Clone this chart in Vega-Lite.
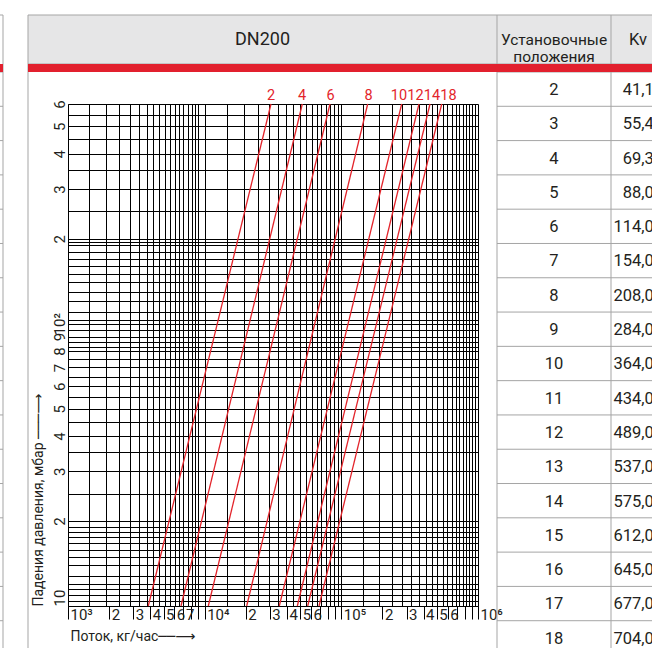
{
  "$schema": "https://vega.github.io/schema/vega-lite/v6.json",
  "width": 410,
  "height": 502,
  "autosize": "none",
  "padding": {"left": 68, "top": 104, "right": 174, "bottom": 42},
  "background": "#ffffff",
  "config": {"view": {"stroke": null}},
  "datasets": {
    "table": [
      {"pos": 2, "kv": "41,10"}, {"pos": 3, "kv": "55,40"}, {"pos": 4, "kv": "69,30"},
      {"pos": 5, "kv": "88,00"}, {"pos": 6, "kv": "114,00"}, {"pos": 7, "kv": "154,00"},
      {"pos": 8, "kv": "208,00"}, {"pos": 9, "kv": "284,00"}, {"pos": 10, "kv": "364,00"},
      {"pos": 11, "kv": "434,00"}, {"pos": 12, "kv": "489,00"}, {"pos": 13, "kv": "537,00"},
      {"pos": 14, "kv": "575,00"}, {"pos": 15, "kv": "612,00"}, {"pos": 16, "kv": "645,00"},
      {"pos": 17, "kv": "677,00"}, {"pos": 18, "kv": "704,00"}
    ],
    "lines": [
      {"pos": 2, "q": 3868, "dp": 10}, {"pos": 2, "q": 30570, "dp": 600},
      {"pos": 4, "q": 6712, "dp": 10}, {"pos": 4, "q": 51820, "dp": 600},
      {"pos": 6, "q": 10630, "dp": 10}, {"pos": 6, "q": 82600, "dp": 600},
      {"pos": 8, "q": 20300, "dp": 10}, {"pos": 8, "q": 155900, "dp": 600},
      {"pos": 10, "q": 35160, "dp": 10}, {"pos": 10, "q": 276500, "dp": 600},
      {"pos": 12, "q": 47640, "dp": 10}, {"pos": 12, "q": 369900, "dp": 600},
      {"pos": 14, "q": 56750, "dp": 10}, {"pos": 14, "q": 445500, "dp": 600},
      {"pos": 18, "q": 68640, "dp": 10}, {"pos": 18, "q": 542600, "dp": 600}
    ],
    "labels": [
      {"pos": 2, "q": 30590, "dp": 600}, {"pos": 4, "q": 51560, "dp": 600},
      {"pos": 6, "q": 83300, "dp": 600}, {"pos": 8, "q": 158100, "dp": 600},
      {"pos": 10, "q": 264200, "dp": 600}, {"pos": 12, "q": 348900, "dp": 600},
      {"pos": 14, "q": 460700, "dp": 600}, {"pos": 18, "q": 608400, "dp": 600}
    ]
  },
  "layer": [
    {
      "layer": [
        {
          "data": {"values": [{}]},
          "mark": {"type": "rect", "fill": "#e6e6e7"},
          "encoding": {
            "x": {"datum": 0, "type": "quantitative", "scale": {"type": "linear", "domain": [-1, 0, 1, 2, 3], "range": [-65, -40, 429, 543, 657], "nice": false, "zero": false}, "axis": null},
            "x2": {"datum": 3},
            "y": {"datum": 0, "type": "quantitative", "scale": {"type": "linear", "domain": [0, 1, 2, 19], "range": [-89, -40, -32, 551], "nice": false, "zero": false}, "axis": null},
            "y2": {"datum": 1}
          }
        },
        {
          "data": {"values": [{}]},
          "mark": {"type": "rule", "color": "#a5a5a5", "strokeWidth": 1},
          "encoding": {
            "x": {"datum": -1, "type": "quantitative"},
            "y": {"datum": 0, "type": "quantitative"},
            "y2": {"datum": 19}
          }
        },
        {
          "data": {"values": [{}]},
          "mark": {"type": "rule", "color": "#a5a5a5", "strokeWidth": 1},
          "encoding": {
            "x": {"datum": 0, "type": "quantitative"},
            "y": {"datum": 0, "type": "quantitative"},
            "y2": {"datum": 19}
          }
        },
        {
          "data": {"values": [{}]},
          "mark": {"type": "rule", "color": "#a5a5a5", "strokeWidth": 1},
          "encoding": {
            "x": {"datum": 1, "type": "quantitative"},
            "y": {"datum": 0, "type": "quantitative"},
            "y2": {"datum": 19}
          }
        },
        {
          "data": {"values": [{}]},
          "mark": {"type": "rule", "color": "#a5a5a5", "strokeWidth": 1},
          "encoding": {
            "x": {"datum": 2, "type": "quantitative"},
            "y": {"datum": 0, "type": "quantitative"},
            "y2": {"datum": 19}
          }
        },
        {
          "data": {"values": [{}]},
          "mark": {"type": "rule", "color": "#a5a5a5", "strokeWidth": 1},
          "encoding": {
            "x": {"datum": 0, "type": "quantitative"},
            "x2": {"datum": 3},
            "y": {"datum": 0, "type": "quantitative"}
          }
        },
        {
          "data": {"values": [{}]},
          "mark": {"type": "rule", "color": "#a5a5a5", "strokeWidth": 1},
          "encoding": {
            "x": {"datum": -1.2, "type": "quantitative"},
            "x2": {"datum": -1},
            "y": {"datum": 0, "type": "quantitative"}
          }
        },
        {
          "data": {"values": [{}]},
          "mark": {"type": "rule", "color": "#a5a5a5", "strokeWidth": 1},
          "encoding": {
            "x": {"datum": 0, "type": "quantitative"},
            "x2": {"datum": 3},
            "y": {"datum": 1, "type": "quantitative"}
          }
        },
        {
          "data": {"name": "table"},
          "mark": {"type": "rule", "color": "#a5a5a5", "strokeWidth": 1},
          "encoding": {
            "x": {"datum": 1, "type": "quantitative"},
            "x2": {"datum": 3},
            "y": {"field": "pos", "type": "quantitative"}
          }
        },
        {
          "data": {"name": "table"},
          "mark": {"type": "rule", "color": "#a5a5a5", "strokeWidth": 1},
          "encoding": {
            "x": {"datum": -1.2, "type": "quantitative"},
            "x2": {"datum": -1},
            "y": {"field": "pos", "type": "quantitative"}
          }
        },
        {
          "data": {"values": [{}]},
          "mark": {"type": "rect", "fill": "#e2202e"},
          "encoding": {
            "x": {"datum": 0, "type": "quantitative"},
            "x2": {"datum": 3},
            "y": {"datum": 1, "type": "quantitative"},
            "y2": {"datum": 2}
          }
        },
        {
          "data": {"values": [{}]},
          "mark": {"type": "rect", "fill": "#e2202e"},
          "encoding": {
            "x": {"datum": -1.2, "type": "quantitative"},
            "x2": {"datum": -1},
            "y": {"datum": 1, "type": "quantitative"},
            "y2": {"datum": 2}
          }
        },
        {
          "data": {"values": [{"t": "DN200"}]},
          "mark": {"type": "text", "font": "Roboto, Liberation Sans, sans-serif", "fontSize": 18, "color": "#231f20", "align": "center", "baseline": "middle"},
          "encoding": {
            "x": {"datum": 0.5, "type": "quantitative"},
            "y": {"datum": 0.5, "type": "quantitative"},
            "text": {"field": "t"}
          }
        },
        {
          "data": {"values": [{"t": "Установочные\nположения"}]},
          "mark": {"type": "text", "font": "Roboto, Liberation Sans, sans-serif", "fontSize": 15.5, "lineHeight": 17, "lineBreak": "\n", "color": "#231f20", "align": "center", "baseline": "middle"},
          "encoding": {
            "x": {"datum": 1.5, "type": "quantitative"},
            "y": {"datum": 0.5, "type": "quantitative"},
            "text": {"field": "t"}
          }
        },
        {
          "data": {"values": [{"t": "Kv"}]},
          "mark": {"type": "text", "font": "Roboto, Liberation Sans, sans-serif", "fontSize": 16.5, "color": "#231f20", "align": "center", "baseline": "middle", "dx": 27},
          "encoding": {
            "x": {"datum": 2, "type": "quantitative"},
            "y": {"datum": 0.5, "type": "quantitative"},
            "text": {"field": "t"}
          }
        },
        {
          "data": {"name": "table"},
          "mark": {"type": "text", "font": "Roboto, Liberation Sans, sans-serif", "fontSize": 16.5, "color": "#231f20", "align": "center", "baseline": "middle", "dy": 18},
          "encoding": {
            "x": {"datum": 1.5, "type": "quantitative"},
            "y": {"field": "pos", "type": "quantitative"},
            "text": {"field": "pos", "type": "nominal"}
          }
        },
        {
          "data": {"name": "table"},
          "mark": {"type": "text", "font": "Roboto, Liberation Sans, sans-serif", "fontSize": 16.5, "color": "#231f20", "align": "right", "baseline": "middle", "dy": 18, "dx": 52},
          "encoding": {
            "x": {"datum": 2, "type": "quantitative"},
            "y": {"field": "pos", "type": "quantitative"},
            "text": {"field": "kv", "type": "nominal"}
          }
        }
      ]
    },
    {
      "layer": [
        {
          "data": {"name": "lines"},
          "mark": {"type": "line", "color": "#e3242b", "strokeWidth": 1.3},
          "encoding": {
            "x": {
              "field": "q", "type": "quantitative",
              "scale": {"type": "log", "domain": [1000, 1000000], "nice": false},
              "axis": {
                "orient": "bottom",
                "values": [1000, 1430, 1900, 2370, 2840, 3330, 3770, 4210, 4630, 5130, 5580, 6070, 6520, 6980, 7520, 8040, 8500, 8980, 10000, 14500, 19500, 24500, 29500, 34500, 39500, 44500, 49500, 55000, 60500, 66000, 71000, 77000, 82500, 88000, 94000, 100000, 145000, 190000, 235000, 280000, 325000, 370000, 415000, 460000, 505000, 550000, 595000, 640000, 685000, 730000, 775000, 820000, 865000, 910000, 955000, 1000000],
                "grid": true, "gridColor": "#000000", "gridWidth": 1, "gridOpacity": 1,
                "labels": false, "ticks": false, "domain": false, "title": null
              }
            },
            "y": {
              "field": "dp", "type": "quantitative",
              "scale": {"type": "log", "domain": [10, 600], "nice": false},
              "axis": {
                "orient": "left",
                "values": [10, 10.4, 10.9, 11.5, 12, 12.8, 14, 14.9, 15.8, 16.7, 17.5, 18.3, 19.1, 20, 25, 30, 35, 40, 45, 50, 55, 60, 65, 70, 75, 80, 83, 86, 89.5, 95, 100, 103, 110, 120, 130, 140, 150, 160, 170, 180, 190, 195, 200, 250, 300, 350, 400, 450, 500, 550, 600],
                "grid": true, "gridColor": "#000000", "gridWidth": 1, "gridOpacity": 1,
                "labels": false, "ticks": false, "domain": false, "title": null
              }
            },
            "detail": {"field": "pos", "type": "nominal"}
          }
        },
        {
          "data": {"name": "labels"},
          "mark": {"type": "text", "color": "#e3242b", "font": "Roboto, Liberation Sans, sans-serif", "fontSize": 14.5, "align": "center", "baseline": "alphabetic", "dy": -4},
          "encoding": {
            "x": {
              "field": "q", "type": "quantitative",
              "axis": {
                "orient": "bottom",
                "values": [1000, 2000, 3000, 4000, 5000, 6000, 7000, 8000, 9000, 10000, 20000, 30000, 40000, 50000, 60000, 70000, 80000, 90000, 100000, 200000, 300000, 400000, 500000, 600000, 700000, 800000, 900000, 1000000],
                "grid": false,
                "domain": true, "domainColor": "#000000", "domainWidth": 1,
                "ticks": true, "tickColor": "#000000", "tickSize": 13, "tickWidth": 1,
                "labelExpr": "datum.value == 1000 ? '10³' : datum.value == 10000 ? '10⁴' : datum.value == 100000 ? '10⁵' : datum.value == 1000000 ? '10⁶' : datum.value < 10000 ? (datum.value <= 7000 ? format(datum.value / 1000, 'd') : '') : datum.value < 100000 ? (datum.value <= 60000 ? format(datum.value / 10000, 'd') : '') : (datum.value <= 600000 ? format(datum.value / 100000, 'd') : '')",
                "labelAlign": "left", "labelBaseline": "top", "labelPadding": -12, "labelOffset": 2,
                "labelFlush": false, "labelOverlap": false,
                "labelFont": "Roboto, Liberation Sans, sans-serif",
                "labelFontSize": 15, "labelColor": "#231f20",
                "title": "Поток, кг/час──⟶",
                "titleFont": "Roboto, DejaVu Sans, sans-serif",
                "titleFontSize": 14, "titleFontWeight": "normal", "titleColor": "#231f20",
                "titleAlign": "left", "titleBaseline": "alphabetic", "titleAngle": 0,
                "titleX": 2, "titleY": 34
              }
            },
            "y": {
              "field": "dp", "type": "quantitative",
              "axis": {
                "orient": "left",
                "values": [10, 20, 30, 40, 50, 60, 70, 80, 90, 100, 200, 300, 400, 500, 600],
                "grid": false,
                "domain": true, "domainColor": "#000000", "domainWidth": 1,
                "ticks": false,
                "labelExpr": "datum.value == 10 ? '10' : datum.value == 100 ? '10²' : format(datum.value < 100 ? datum.value / 10 : datum.value / 100, 'd')",
                "labelAngle": 270,
                "labelAlign": {"condition": {"test": "datum.value == 10", "value": "left"}, "value": "center"},
                "labelBaseline": "bottom", "labelPadding": 1,
                "labelOverlap": false, "labelFlush": false,
                "labelFont": "Roboto, Liberation Sans, sans-serif",
                "labelFontSize": 15, "labelColor": "#231f20",
                "title": "Падения давления, мбар ───⟶",
                "titleFont": "Roboto, DejaVu Sans, sans-serif",
                "titleFontSize": 14, "titleFontWeight": "normal", "titleColor": "#231f20",
                "titleAngle": 270, "titleAlign": "left", "titleBaseline": "bottom",
                "titleX": -23, "titleY": 502
              }
            },
            "text": {"field": "pos", "type": "nominal"}
          }
        }
      ],
      "resolve": {"axis": {"x": "independent", "y": "independent"}}
    }
  ],
  "resolve": {"scale": {"x": "independent", "y": "independent"}}
}
